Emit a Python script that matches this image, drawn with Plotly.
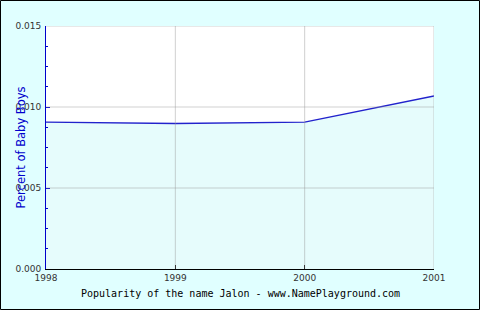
import plotly.graph_objects as go

years = [1998, 1999, 2000, 2001]
percent = [0.00907, 0.00898, 0.00907, 0.01068]
y_ticks = [0.0, 0.005, 0.010, 0.015]
y_tick_labels = ["0.000", "0.005", "0.010", "0.015"]
x_ticks = [1998, 1999, 2000, 2001]
x_tick_labels = ["1998", "1999", "2000", "2001"]
title_text = "Popularity of the name Jalon - www.NamePlayground.com"
y_title = "Percent of Baby Boys"

W, H = 480, 310
L, R, T, B = 46, 46, 26, 41
pw, ph = W - L - R, H - T - B
grid_col = "rgba(150,150,150,0.45)"

fig = go.Figure()
fig.add_trace(go.Scatter(
    x=years, y=percent, mode="lines",
    line=dict(color="#2222CC", width=1.3),
    fill="tozeroy", fillcolor="#E6FCFC",
    hoverinfo="skip", showlegend=False,
))

shapes = []
for xv in x_ticks[1:]:
    shapes.append(dict(type="line", xref="x", yref="paper", x0=xv, x1=xv, y0=0, y1=1,
                       line=dict(color=grid_col, width=1), layer="above"))
for yv in y_ticks[1:]:
    shapes.append(dict(type="line", xref="paper", yref="y", x0=0, x1=1, y0=yv, y1=yv,
                       line=dict(color=grid_col, width=1), layer="above"))
shapes.append(dict(type="rect", xref="paper", yref="paper",
                   x0=-(L - 0.5) / pw, x1=1 + (R - 0.5) / pw,
                   y0=-(B - 0.5) / ph, y1=1 + (T - 0.5) / ph,
                   line=dict(color="#000000", width=1), fillcolor="rgba(0,0,0,0)", layer="above"))

fig.update_layout(
    width=W, height=H,
    margin=dict(l=L, r=R, t=T, b=B, pad=0),
    paper_bgcolor="#E0FFFF",
    plot_bgcolor="#FFFFFF",
    font=dict(family="DejaVu Sans", size=9, color="#333333"),
    xaxis=dict(
        range=[1998, 2001], tickmode="array", tickvals=x_ticks, ticktext=x_tick_labels,
        showgrid=False,
        showline=True, linecolor="#000000", linewidth=1,
        ticks="inside", ticklen=4, tickcolor="#000000",
        zeroline=False, fixedrange=True,
        tickfont=dict(size=9, color="#333333"),
    ),
    yaxis=dict(
        range=[0, 0.015], tickmode="array", tickvals=y_ticks, ticktext=y_tick_labels,
        showgrid=False,
        showline=True, linecolor="#0000CC", linewidth=1,
        ticks="inside", ticklen=4, tickcolor="#0000CC",
        minor=dict(dtick=0.00125, ticks="inside", ticklen=2, tickcolor="#0000CC", showgrid=False),
        zeroline=False, fixedrange=True,
        tickfont=dict(size=9, color="#333333"),
        ticklabelstandoff=2,
    ),
    shapes=shapes,
    annotations=[
        dict(text=title_text, xref="paper", yref="paper", x=0.5, y=-(B - 17) / ph,
             yanchor="middle", xanchor="center", showarrow=False,
             font=dict(family="DejaVu Sans Mono", size=10, color="#000000")),
        dict(text=y_title, xref="paper", yref="paper", x=-(L - 20) / pw, y=0.5,
             xanchor="center", yanchor="middle", textangle=-90, showarrow=False,
             font=dict(family="DejaVu Sans", size=11.5, color="#0000CC")),
    ],
)

fig.write_html("out.html")
